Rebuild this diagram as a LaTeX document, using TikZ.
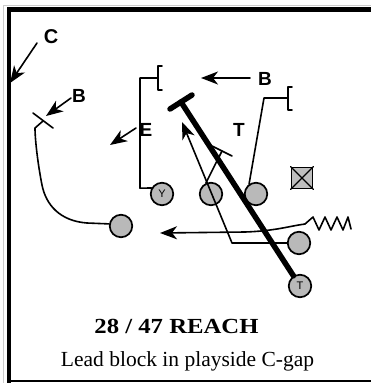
\documentclass[tikz,border=0pt]{standalone}
\usepackage{fontspec}
\setmainfont{Liberation Serif}
\newfontfamily\labelsans{Liberation Sans}
\usetikzlibrary{arrows.meta}

\tikzset{
  player/.style={circle, draw, line width=1.7pt, fill=gray!55, minimum size=22.5pt, inner sep=0pt,
    font=\labelsans\fontsize{11}{11}\selectfont},
  route/.style={line width=1.6pt},
  lead/.style={line width=5.5pt},
  motion/.style={route, -{Stealth[length=17pt,width=13pt,inset=5pt]}},
  tag/.style={font=\labelsans\bfseries\fontsize{19}{19}\selectfont, inner sep=0pt},
}

\begin{document}
\begin{tikzpicture}[x=1pt, y=-1pt, line cap=round, line join=round]
  \useasboundingbox (0,0) rectangle (371,383);

  % frame
  \draw[gray!40, line width=1pt] (3.5,383) -- (3.5,5.5) -- (371,5.5);
  \draw[line width=4.5pt, line cap=butt, line join=miter] (9,383) -- (9,9.3) -- (375,9.3);
  \draw[line width=2.4pt, line cap=butt] (9,381.2) -- (375,381.2);

  % players
  \node[player] (y)    at (162,194) {Y};
  \node[player] (lg)   at (211,194) {};
  \node[player] (lt)   at (256,194) {};
  \node[player] (wing) at (121,226) {};
  \node[player] (back) at (299,243) {};
  \node[player] (tail) at (300,286) {T};
  \node[draw, line width=1.8pt, fill=gray!50, minimum size=21pt, inner sep=0pt] (dl) at (302,178) {};
  \draw[line width=1.1pt] (dl.north west) -- (dl.south east) (dl.north east) -- (dl.south west);

  % free ends
  \coordinate (ybr)  at (158,78);
  \coordinate (tbr)  at (288,98);
  \coordinate (gblk) at (222,151);
  \coordinate (leadblk) at (181,102);
  \coordinate (wblk) at (43,121);
  \coordinate (hole) at (182,122);
  \coordinate (mstart) at (305,224);
  \coordinate (mtip)   at (160,233);

  % Y and tackle releases
  \draw[route] (y.150) -- (140,188.2) -- (140,78) -- (ybr);
  \draw[route] (162,66) -- (158,66) -- (158,90) -- (162,90);
  \draw[route] (lt.125) -- (264,98) -- (tbr);
  \draw[route] (292,87) -- (288,87) -- (288,110) -- (292,110);

  % guard block
  \draw[route] (lg.115) -- (gblk);
  \draw[route] (212,146) -- (232,156);

  % ball carrier
  \draw[motion] (back) -- (232,243) -- (hole);

  % lead block
  \draw[lead] (tail) -- (leadblk);
  \draw[lead] (170,109) -- (192,95);

  % wing arc block
  \draw[route] (wing.170) -- (87,223) .. controls (60,221) and (46,205) .. (42,185)
    .. controls (38,165) and (35,140) .. (35,128) -- (wblk);
  \draw[route] (33,113) -- (53,128);

  % motion
  \draw[route] (mstart) -- (313,217) -- (319,230) -- (325,217) -- (331,230) -- (337,217)
    -- (343,230) -- (348,217) -- (351,229);
  \draw[motion] (mstart) .. controls (290,226) and (275,231) .. (245,232) -- (mtip);

  % defender labels
  \node[tag, font=\labelsans\bfseries\fontsize{20}{20}\selectfont] (lc) at (51,36.5) {C};
  \node[tag] (lb1) at (79,96) {B};
  \node[tag] (le)  at (146,130) {E};
  \node[tag] (lb2) at (265,78.5) {B};
  \node[tag] (lt2) at (239,130) {T};
  \coordinate (c0) at (37,43);   \coordinate (c1) at (10,83);
  \coordinate (b0) at (71,98);   \coordinate (b1) at (46,116);
  \coordinate (e0) at (136,128); \coordinate (e1) at (110,145);
  \coordinate (d0) at (250,78);  \coordinate (d1) at (201,78);
  \foreach \s/\t in {c0/c1,b0/b1,e0/e1,d0/d1}
    \draw[motion] (\s) -- (\t);

  % caption
  \node[anchor=base, font=\fontsize{21.5}{21.5}\selectfont\bfseries] (title) at (176.5,333)
    {\scalebox{1.15}[1]{28 / 47 REACH}};
  \node[anchor=base, font=\fontsize{21.5}{21.5}\selectfont] (sub) at (187.5,366)
    {Lead block in playside C-gap};
\end{tikzpicture}
\end{document}
